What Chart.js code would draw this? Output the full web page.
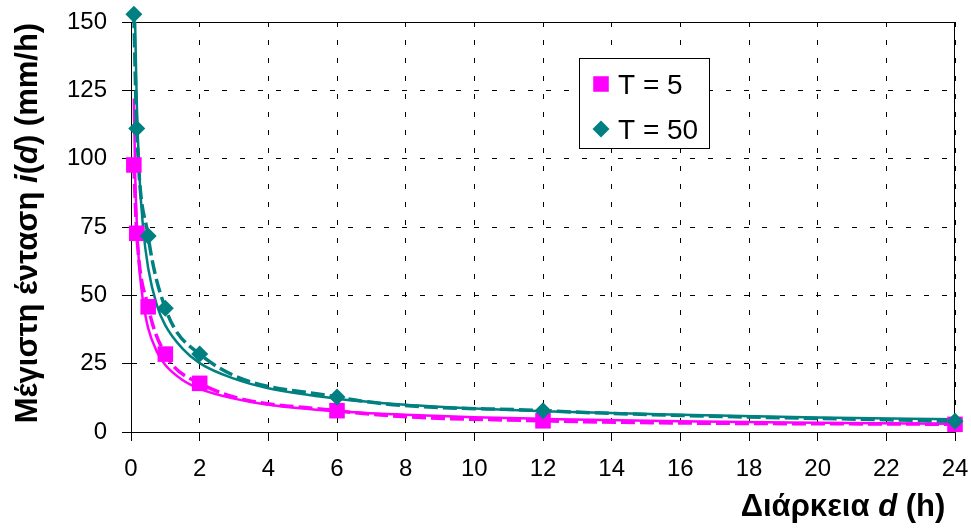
<!DOCTYPE html>
<html>
<head>
<meta charset="utf-8">
<script src="https://cdn.jsdelivr.net/npm/chart.js@4.4.1/dist/chart.umd.min.js"></script>
<style>
  html, body { margin: 0; padding: 0; background: #ffffff; }
  #wrap { width: 971px; height: 528px; position: relative; }
</style>
</head>
<body>
<div id="wrap"><canvas id="c" width="971" height="528"></canvas></div>
<script>
// Rainfall durations (h) and observed maximum intensities (mm/h)
const durations = [0.083, 0.167, 0.5, 1, 2, 6, 12, 24];
const intensityT5 = [97.7, 72.7, 45.8, 28.5, 17.8, 7.8, 4.1, 2.8];
const intensityT50 = [152.8, 111, 71.7, 45.3, 28.5, 12.8, 7.8, 3.9];

// Fitted IDF curves
const fitDurationsT5 = [0.083, 0.12, 0.167, 0.25, 0.35, 0.5, 0.75, 1, 1.5, 2, 3, 4, 6, 8, 10, 12, 16, 20, 24];
const fitT5 = [122, 95, 77, 59, 48, 38, 29.5, 24.5, 19, 15.8, 12.2, 10, 7.6, 6.3, 5.4, 4.8, 3.9, 3.4, 3.0];
const fitDurationsT50 = [0.12, 0.167, 0.25, 0.35, 0.5, 0.75, 1, 1.5, 2, 3, 4, 6, 8, 10, 12, 16, 20, 24];
const fitT50 = [150, 121, 93, 75, 60, 46.5, 39, 30.5, 25.2, 19.5, 16, 12.2, 10, 8.6, 7.6, 6.3, 5.3, 4.7];

// Legend entries and axis titles
const seriesLabels = ['T = 5', 'T = 50'];
const yTitleParts = [['Μέγιστη ένταση ', false], ['i', true], ['(', false], ['d', true], [') (mm/h)', false]];
const xTitleParts = [['Διάρκεια ', false], ['d', true], [' (h)', false]];

const MAGENTA = '#FF00FF';
const TEAL = '#008080';
const FONT = '"Liberation Sans", Arial, sans-serif';

const toPoints = (xs, ys) => xs.map((x, i) => ({ x: x, y: ys[i] }));

function drawRich(ctx, parts, size, cx, baseline) {
  const fontFor = it => (it ? 'italic ' : '') + 'bold ' + size + 'px ' + FONT;
  let total = 0;
  parts.forEach(([t, it]) => { ctx.font = fontFor(it); total += ctx.measureText(t).width; });
  let x = cx - total / 2;
  ctx.textAlign = 'left';
  ctx.textBaseline = 'alphabetic';
  parts.forEach(([t, it]) => {
    ctx.font = fontFor(it);
    ctx.fillText(t, x, baseline);
    x += ctx.measureText(t).width;
  });
}

// Plot frame, axis titles and the boxed legend
const decorations = {
  id: 'decorations',
  beforeDatasetsDraw(chart) {
    const { ctx, chartArea: a } = chart;
    ctx.save();
    ctx.strokeStyle = '#000';
    ctx.lineWidth = 1;
    ctx.strokeRect(Math.round(a.left) + 0.5, Math.round(a.top) + 0.5,
                   Math.round(a.right - a.left) - 1, Math.round(a.bottom - a.top));
    ctx.restore();
  },
  afterDraw(chart) {
    const { ctx } = chart;
    ctx.save();
    ctx.fillStyle = '#000';
    // x title
    drawRich(ctx, xTitleParts, 31, 843, 516);
    // y title
    ctx.translate(37, 223);
    ctx.rotate(-Math.PI / 2);
    drawRich(ctx, yTitleParts, 31, 0, 0);
    ctx.restore();

    // legend
    ctx.save();
    ctx.fillStyle = '#fff';
    ctx.strokeStyle = '#000';
    ctx.lineWidth = 1;
    ctx.fillRect(579.5, 58.5, 130, 90);
    ctx.strokeRect(579.5, 58.5, 130, 90);
    const styles = [['rect', 11, MAGENTA], ['rectRot', 8.5, TEAL]];
    const rows = [84, 129];
    rows.forEach((y, i) => {
      ctx.fillStyle = styles[i][2];
      ctx.strokeStyle = styles[i][2];
      Chart.helpers.drawPoint(ctx, { pointStyle: styles[i][0], radius: styles[i][1], borderWidth: 0, rotation: 0 }, 601, y);
      ctx.fillStyle = '#000';
      ctx.font = '28px ' + FONT;
      ctx.textAlign = 'left';
      ctx.textBaseline = 'alphabetic';
      ctx.fillText(seriesLabels[i], 618, y + 10);
    });
    ctx.restore();
  }
};

const axisCommon = {
  type: 'linear',
  grid: {
    color: '#000', lineWidth: 1, tickLength: 9, tickColor: '#000', tickWidth: 1,
    tickBorderDash: [], drawOnChartArea: true, drawTicks: true
  },
  border: { display: true, color: '#000', width: 1, dash: [5, 13] },
  ticks: { color: '#000', font: { family: FONT, size: 24 } }
};

new Chart(document.getElementById('c'), {
  type: 'scatter',
  data: {
    datasets: [
      {
        label: seriesLabels[1], data: toPoints(durations, intensityT50), order: 0,
        showLine: false, pointStyle: 'rectRot', pointRadius: 8.5, pointBorderWidth: 0,
        pointBackgroundColor: TEAL, pointBorderColor: TEAL, clip: false
      },
      {
        label: seriesLabels[0], data: toPoints(durations, intensityT5), order: 1,
        showLine: false, pointStyle: 'rect', pointRadius: 11, pointBorderWidth: 0,
        pointBackgroundColor: MAGENTA, pointBorderColor: MAGENTA, clip: false
      },
      {
        label: 'T50 smooth', data: toPoints(durations, intensityT50), order: 2,
        showLine: true, pointRadius: 0, borderColor: TEAL, borderWidth: 3.5, borderDash: [14, 5],
        cubicInterpolationMode: 'monotone', clip: false
      },
      {
        label: 'T50 fit', data: toPoints(fitDurationsT50, fitT50), order: 3,
        showLine: true, pointRadius: 0, borderColor: TEAL, borderWidth: 2.5,
        cubicInterpolationMode: 'monotone'
      },
      {
        label: 'T5 smooth', data: toPoints(durations, intensityT5), order: 4,
        showLine: true, pointRadius: 0, borderColor: MAGENTA, borderWidth: 3.5, borderDash: [14, 5],
        cubicInterpolationMode: 'monotone'
      },
      {
        label: 'T5 fit', data: toPoints(fitDurationsT5, fitT5), order: 5,
        showLine: true, pointRadius: 0, borderColor: MAGENTA, borderWidth: 2.5,
        cubicInterpolationMode: 'monotone'
      }
    ]
  },
  options: {
    responsive: false,
    animation: false,
    events: [],
    layout: { padding: { left: 0, top: 22, right: 16, bottom: 0 } },
    plugins: { legend: { display: false }, tooltip: { enabled: false } },
    scales: {
      x: Object.assign({}, axisCommon, {
        min: 0, max: 24,
        ticks: Object.assign({}, axisCommon.ticks, { stepSize: 2, padding: 14, maxRotation: 0 }),
        afterFit: s => { s.height = 96; s.paddingLeft = 0; s.paddingRight = 0; }
      }),
      y: Object.assign({}, axisCommon, {
        min: 0, max: 150,
        ticks: Object.assign({}, axisCommon.ticks, { stepSize: 25, padding: 15 }),
        afterFit: s => { s.width = 131; s.paddingTop = 0; s.paddingBottom = 0; }
      })
    }
  },
  plugins: [decorations]
});
</script>
</body>
</html>
